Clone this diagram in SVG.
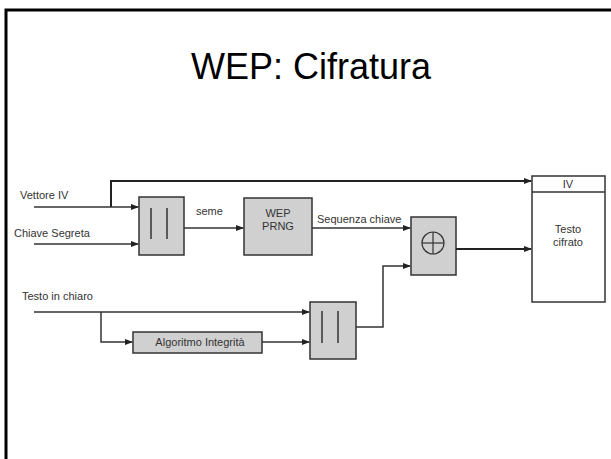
<svg xmlns="http://www.w3.org/2000/svg" width="611" height="459" viewBox="0 0 611 459">
<defs>
<marker id="arr" markerWidth="8" markerHeight="6" refX="7" refY="3" orient="auto" markerUnits="userSpaceOnUse">
<path d="M0,0 L8,3 L0,6 z" fill="#222"/>
</marker>
</defs>
<style>
.box{fill:#d0d0d0;stroke:#333;stroke-width:1.5}
.wbox{fill:#fff;stroke:#333;stroke-width:1.5}
.ln{fill:none;stroke:#333;stroke-width:1.5}
.lnt{fill:none;stroke:#222;stroke-width:2}
.t{font-family:"Liberation Sans",Arial,sans-serif;font-size:11px;fill:#333}
.tc{font-family:"Liberation Sans",Arial,sans-serif;font-size:11px;fill:#333;text-anchor:middle}
.bar{stroke:#333;stroke-width:1.5}
</style>
<rect width="611" height="459" fill="#fff"/>
<rect x="6" y="10" width="640" height="480" fill="none" stroke="#000" stroke-width="3"/>
<text x="311" y="79" font-family="'Liberation Sans',Arial,sans-serif" font-size="36" text-anchor="middle" fill="#000">WEP: Cifratura</text>

<g id="labels">
<text class="t" x="20" y="199">Vettore IV</text>
<text class="t" x="14" y="237">Chiave Segreta</text>
<text class="t" x="22" y="300">Testo in chiaro</text>
<text class="t" x="196" y="215">seme</text>
<text class="t" x="317" y="223">Sequenza chiave</text>
</g>

<g id="concat1">
<rect class="box" x="139" y="197" width="45" height="58"/>
<line class="bar" x1="151" y1="208" x2="151" y2="239"/>
<line class="bar" x1="167" y1="208" x2="167" y2="239"/>
</g>

<g id="prng">
<rect class="box" x="244" y="198" width="68" height="57"/>
<text class="tc" x="278" y="217">WEP</text>
<text class="tc" x="278" y="230">PRNG</text>
</g>

<g id="xor">
<rect class="box" x="411" y="217" width="45" height="58"/>
<circle cx="433" cy="243" r="11" fill="none" stroke="#333" stroke-width="1.2"/>
<line x1="422" y1="243" x2="444" y2="243" stroke="#333" stroke-width="1.2"/>
<line x1="433" y1="232" x2="433" y2="254" stroke="#333" stroke-width="1.2"/>
</g>

<g id="output">
<rect class="wbox" x="532" y="176" width="73" height="126"/>
<line class="ln" x1="532" y1="192" x2="605" y2="192"/>
<text class="tc" x="568" y="188">IV</text>
<text class="tc" x="568" y="233">Testo</text>
<text class="tc" x="568" y="246">cifrato</text>
</g>

<g id="integrity">
<rect class="box" x="133" y="332" width="129" height="21"/>
<text class="tc" x="200" y="346">Algoritmo Integrità</text>
</g>

<g id="concat2">
<rect class="box" x="310" y="302" width="46" height="57"/>
<line class="bar" x1="322" y1="311" x2="322" y2="343"/>
<line class="bar" x1="338" y1="311" x2="338" y2="343"/>
</g>

<g id="connectors">
<path class="lnt" d="M111,207 V181 H531" marker-end="url(#arr)"/>
<path class="ln" d="M34,207 H138" marker-end="url(#arr)"/>
<path class="ln" d="M34,244 H138" marker-end="url(#arr)"/>
<path class="ln" d="M184,228 H243" marker-end="url(#arr)"/>
<path class="ln" d="M312,228 H410" marker-end="url(#arr)"/>
<path class="lnt" d="M456,249 H531" marker-end="url(#arr)"/>
<path class="ln" d="M356,327 H383 V266 H410" marker-end="url(#arr)"/>
<path class="ln" d="M34,312 H309" marker-end="url(#arr)"/>
<path class="ln" d="M101,312 V342 H132" marker-end="url(#arr)"/>
<path class="ln" d="M262,342 H309" marker-end="url(#arr)"/>
</g>
</svg>
